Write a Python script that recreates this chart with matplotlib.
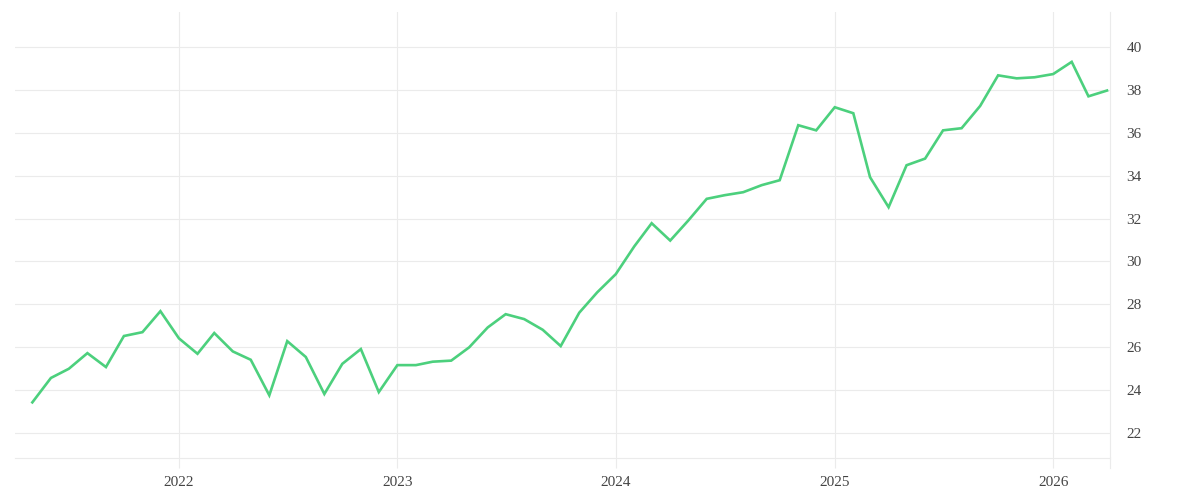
import numpy as np
import pandas as pd
import matplotlib as mpl
mpl.use('Agg')
import matplotlib.pyplot as plt
import matplotlib.dates as mdates

# monthly values, May 2021 - Apr 2026
months = pd.date_range('2021-05-01', '2026-04-01', freq='MS')
values = [
    23.41, 24.55, 24.98, 25.71, 25.06, 26.51, 26.69, 27.67,                    # 2021
    26.40, 25.68, 26.65, 25.79, 25.40, 23.74, 26.27, 25.53, 23.80, 25.21, 25.90, 23.89,  # 2022
    25.15, 25.15, 25.31, 25.36, 25.98, 26.91, 27.53, 27.30, 26.80, 26.04, 27.60, 28.55,  # 2023
    29.40, 30.70, 31.78, 30.97, 31.90, 32.92, 33.09, 33.23, 33.56, 33.79, 36.36, 36.12,  # 2024
    37.20, 36.92, 33.93, 32.53, 34.49, 34.80, 36.12, 36.22, 37.26, 38.69, 38.55, 38.60,  # 2025
    38.75, 39.32, 37.71, 37.98,                                                # 2026
]
y_ticks = [22, 24, 26, 28, 30, 32, 34, 36, 38, 40]
year_ticks = ['2022-01-01', '2023-01-01', '2024-01-01', '2025-01-01', '2026-01-01']

grid_col = '#ebebeb'
text_col = '#444444'
line_col = '#4cd07d'

plt.rcParams['font.family'] = ['Liberation Serif', 'DejaVu Serif']

fig = plt.figure(figsize=(12, 5), dpi=100)
# axes box in pixels: left 15, right 1110, top 12, bottom 458
ax = fig.add_axes([15 / 1200, (500 - 458) / 500, (1110 - 15) / 1200, (458 - 12) / 500])

ax.plot(months, values, color=line_col, linewidth=1.9, solid_joinstyle='miter')

ax.set_xlim(pd.Timestamp('2021-04-02'), pd.Timestamp('2026-04-06'))
ax.set_ylim(20.81, 41.65)

ax.xaxis.set_major_locator(mdates.YearLocator())
ax.xaxis.set_major_formatter(mdates.DateFormatter('%Y'))
ax.set_xticks(pd.to_datetime(year_ticks))
ax.set_yticks(y_ticks)

ax.yaxis.tick_right()
ax.tick_params(axis='y', length=0, pad=12, labelsize=11, labelcolor=text_col)
ax.tick_params(axis='x', length=7.2, width=0.8, color=grid_col, pad=6,
               labelsize=11, labelcolor=text_col)

ax.grid(True, color=grid_col, linewidth=0.8)
ax.set_axisbelow(True)

for side in ['top', 'left']:
    ax.spines[side].set_visible(False)
ax.spines['bottom'].set_color(grid_col)
ax.spines['bottom'].set_linewidth(0.8)
ax.spines['right'].set_color(grid_col)
ax.spines['right'].set_linewidth(0.8)
# right edge line runs down past the axis like the tick marks
ax.plot([1, 1], [0, -10 / 446], transform=ax.transAxes, color=grid_col,
        linewidth=0.8, clip_on=False)

fig.savefig('out.png', dpi=100, facecolor='white')
